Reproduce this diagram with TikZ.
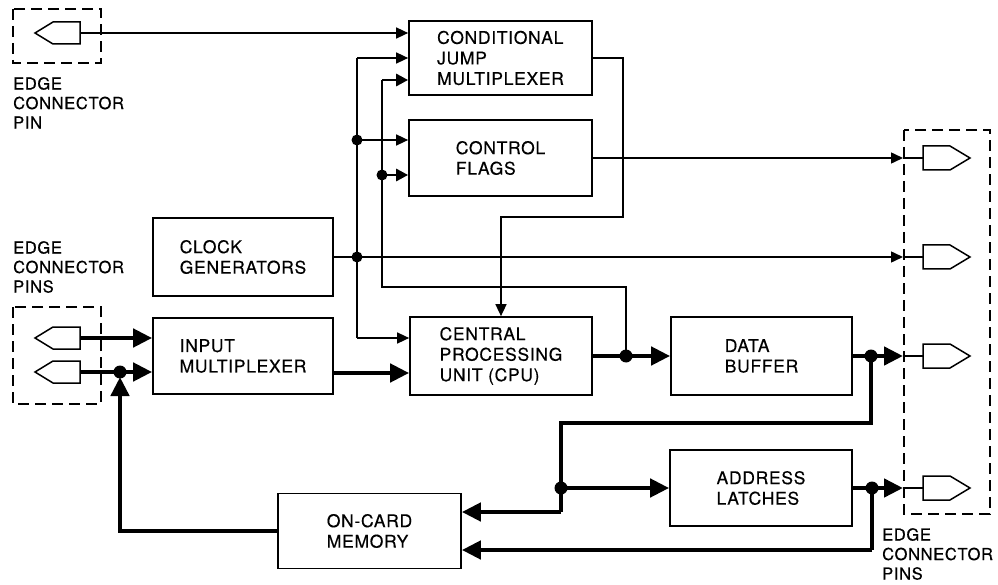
\documentclass[tikz,border=0pt]{standalone}
\usepackage{fontspec}
\setmainfont{TeX Gyre Heros}[LetterSpace=4, FakeBold=0.4]
\usetikzlibrary{arrows.meta}
\begin{document}
\begin{tikzpicture}[x=1pt,y=-1pt,
  every node/.style={font=\fontsize{17.5}{20.5}\selectfont},
  blk/.style={draw, line width=1.7pt, align=left, inner sep=0pt},
  lbl/.style={align=left, inner sep=0pt, anchor=north west, font=\fontsize{16.5}{19.5}\selectfont},
  thinln/.style={line width=1.5pt},
  thinarr/.style={line width=1.5pt, -{Triangle[length=12pt,width=11pt]}},
  medln/.style={line width=2.8pt},
  medarr/.style={line width=2.8pt, -{Triangle[length=12pt,width=12pt]}},
  thickln/.style={line width=4.5pt},
  thickarr/.style={line width=4.5pt, -{Triangle[length=19pt,width=18pt]}},
  dashbox/.style={line width=1.6pt, dash pattern=on 11pt off 6pt},
  dot/.style={fill=black},
  pinln/.style={line width=1.5pt, fill=white},
  rpin/.pic={\draw[line width=1.5pt] (0,0) -- (20,0);
             \draw[pinln] (20,-12) -- (47,-12) -- (67,0) -- (47,12) -- (20,12) -- cycle;},
  lpin/.pic={\draw[pinln] (0,-11) -- (-27,-11) -- (-45,0) -- (-27,11) -- (0,11) -- cycle;}
]
\useasboundingbox (0,0) rectangle (998,585);

% boxes
\node[blk, minimum width=183pt, minimum height=74pt] (cjm) at (500.5,58) {CONDITIONAL\\JUMP\\MULTIPLEXER};
\node[blk, minimum width=183pt, minimum height=76pt] (flags) at (500.5,158) {CONTROL\\FLAGS};
\node[blk, minimum width=180pt, minimum height=78pt] (clock) at (243,257) {CLOCK\\GENERATORS};
\node[blk, minimum width=180pt, minimum height=76pt] (inmux) at (243,356) {INPUT\\MULTIPLEXER};
\node[blk, minimum width=182pt, minimum height=78pt] (cpu) at (501,356) {CENTRAL\\PROCESSING\\UNIT (CPU)};
\node[blk, minimum width=181pt, minimum height=78pt] (dbuf) at (761.5,356) {DATA\\BUFFER};
\node[blk, minimum width=182pt, minimum height=76pt] (addr) at (761,488) {ADDRESS\\LATCHES};
\node[blk, minimum width=183pt, minimum height=75pt] (mem) at (369.5,531) {ON-CARD\\MEMORY};

% dashed connector boxes
\draw[dashbox] (13,9) rectangle (101,63);
\draw[dashbox] (13,307) rectangle (101,404);
\draw[dashbox] (904,130) rectangle (990,514);

% labels
\node[lbl] (l1) at (13,77) {EDGE\\CONNECTOR\\PIN};
\node[lbl] (l2) at (13,241) {EDGE\\CONNECTOR\\PINS};
\node[lbl] (l3) at (882,528) {EDGE\\CONNECTOR\\PINS};

% coordinates
\coordinate (pA) at (80,33);
\coordinate (pL1) at (80,338);
\coordinate (pL2) at (80,372);
\coordinate (jL) at (120,372);
\coordinate (r1) at (903,158);
\coordinate (r2) at (903,257);
\coordinate (r3) at (903,356);
\coordinate (r4) at (903,488);
\coordinate (v1top) at (357,58);
\coordinate (j1) at (357,140);
\coordinate (jc) at (357,257);
\coordinate (v1bot) at (357,338);
\coordinate (v2top) at (382,80);
\coordinate (j2) at (382,175);
\coordinate (v2bend) at (382,287);
\coordinate (cpuj) at (626,356);
\coordinate (cjmR) at (623,217);
\coordinate (imo) at (333,373);
\coordinate (jD) at (871,356);
\coordinate (bus1) at (561,423);
\coordinate (jA) at (561,488);
\coordinate (m1) at (561,512);
\coordinate (jB) at (872,488);
\coordinate (m2) at (872,550);

% top-left pin to CJM
\draw[thinarr] (pA) -- (pA -| cjm.west);
% vertical line 1
\draw[thinarr] (v1top) -- (cjm.west);
\draw[thinln] (v1top) -- (v1bot);
\draw[thinarr] (v1bot) -- (v1bot -| cpu.west);
\draw[thinarr] (j1) -- (j1 -| flags.west);
% vertical line 2
\draw[medarr] (v2top) -- (v2top -| cjm.west);
\draw[medln] (v2top) -- (v2bend) -| (cpuj);
\draw[medarr] (j2) -- (j2 -| flags.west);
% CJM output to CPU
\draw[thinarr] (cjm.east) -| (cjmR) -| (cpu.north);
% flags output, clock output
\draw[thinarr] (flags.east) -- (r1);
\draw[thinarr] (clock.east) -- (r2);
% input pins
\draw[thickarr] (pL1) -- (pL1 -| inmux.west);
\draw[thickarr] (pL2) -- (pL2 -| inmux.west);
\draw[thickarr, shorten >=5pt] (mem.west) -| (jL);
% inmux to cpu, cpu to dbuf
\draw[thickarr] (imo) -- (imo -| cpu.west);
\draw[thickarr] (cpu.east) -- (dbuf.west);
% data buffer out
\draw[thickarr] (dbuf.east) -- (r3);
\draw[thickln] (jD) |- (bus1) -- (m1);
\draw[thickarr] (m1) -- (m1 -| mem.east);
\draw[thickarr] (jA) -- (addr.west);
% address latches out
\draw[thickarr] (addr.east) -- (r4);
\draw[thickln] (jB) -- (m2);
\draw[thickarr] (m2) -- (m2 -| mem.east);

% dots
\foreach \p in {j1,jc,j2} \fill[dot] (\p) circle[radius=5.5pt];
\foreach \p in {jL,cpuj,jD,jA,jB} \fill[dot] (\p) circle[radius=6.5pt];

% pins
\pic at (pA) {lpin};
\pic at (pL1) {lpin};
\pic at (pL2) {lpin};
\pic at (r1) {rpin};
\pic at (r2) {rpin};
\pic at (r3) {rpin};
\pic at (r4) {rpin};
\end{tikzpicture}
\end{document}
